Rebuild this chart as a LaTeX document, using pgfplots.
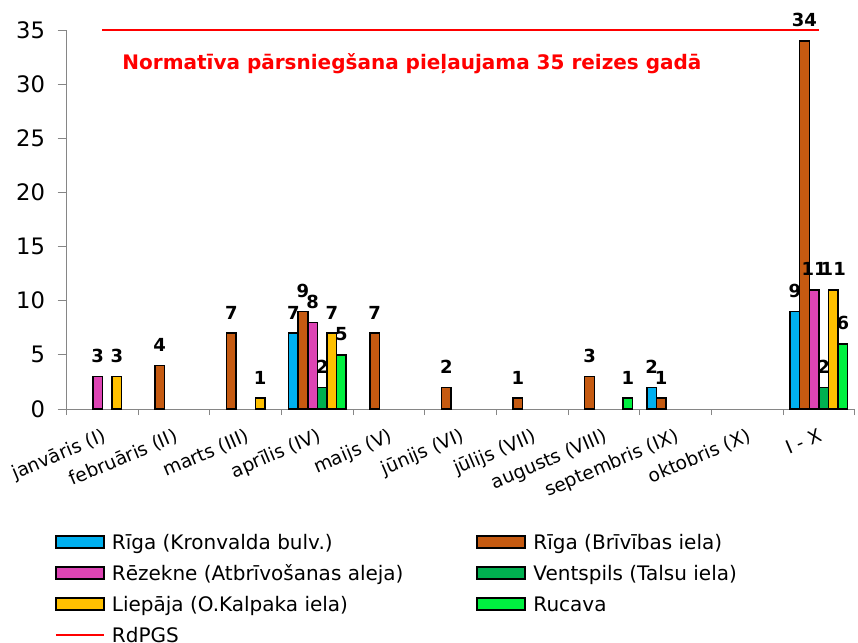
\documentclass[border=0pt]{standalone}
\usepackage{fontspec}
\setmainfont{DejaVu Sans}
\usepackage{pgfplots}
\pgfplotsset{compat=1.18}
\definecolor{cBlue}{HTML}{00B0F0}
\definecolor{cBrown}{HTML}{C55A11}
\definecolor{cMag}{HTML}{DD44B4}
\definecolor{cDkGreen}{HTML}{00B050}
\definecolor{cYellow}{HTML}{FFC000}
\definecolor{cGreen}{HTML}{00F040}
\definecolor{cAxis}{HTML}{868686}
\pgfplotsset{
  barleg/.style={legend image code/.code={\draw[##1, line width=1.5pt] (0pt,-4.5pt) rectangle (36pt,4.5pt);}},
  mybar/.style={fill=#1, draw=black, line width=1.1pt, nodes near coords, barleg},
}
\begin{document}
\begin{tikzpicture}
\path[use as bounding box] (-50pt,-175.5pt) rectangle (593.5pt,306.75pt);
\begin{axis}[
  at={(0pt,0pt)}, anchor=south west,
  width=591pt, height=284.25pt, scale only axis,
  xmin=-0.5, xmax=10.5, ymin=0, ymax=35,
  clip=false,
  ybar, bar width=7.2pt,
  axis x line*=bottom, axis y line*=left,
  axis line style={cAxis, line width=0.75pt},
  tick align=outside,
  ytick={0,5,...,35},
  xtick={0,...,10},
  xticklabels={janvāris (I),februāris (II),marts (III),aprīlis (IV),maijs (V),jūnijs (VI),jūlijs (VII),augusts (VIII),septembris (IX),oktobris (X),I - X},
  minor xtick={-0.5,0.5,...,10.5},
  major tick length=6.75pt, minor tick length=4.5pt,
  tick style={cAxis, line width=0.75pt},
  major x tick style={draw=none},
  /pgf/number format/assume math mode=true,
  y tick label style={font=\fontsize{17}{20}\selectfont, xshift=-6pt},
  x tick label style={font=\fontsize{14}{17}\selectfont, rotate=23, anchor=north east, yshift=-3pt},
  every node near coord/.append style={font=\bfseries\fontsize{13.5}{16}\selectfont, text=black, anchor=south, inner sep=0pt, yshift=10pt},
  legend columns=2,
  legend cell align=left,
  legend style={at={(-0.0149,-0.3307)}, anchor=north west, draw=none, fill=none, inner sep=0pt, outer sep=0pt,
    font=\fontsize{15}{18}\selectfont,
    nodes={inner sep=0pt, text height=11.5pt, text depth=0pt},
    /tikz/row sep=11.75pt, /tikz/column sep=5.25pt,
    /tikz/every even column/.append style={column sep=54.75pt}},
]
\addplot[mybar=cBlue, bar shift=-18pt] coordinates {(3,7)(8,2)(10,9)};
\addlegendentry{Rīga (Kronvalda bulv.)}
\addplot[mybar=cBrown, bar shift=-10.8pt] coordinates {(1,4)(2,7)(3,9)(4,7)(5,2)(6,1)(7,3)(8,1)(10,34)};
\addlegendentry{Rīga (Brīvības iela)}
\addplot[mybar=cMag, bar shift=-3.6pt] coordinates {(0,3)(3,8)(10,11)};
\addlegendentry{Rēzekne (Atbrīvošanas aleja)}
\addplot[mybar=cDkGreen, bar shift=3.6pt] coordinates {(3,2)(10,2)};
\addlegendentry{Ventspils (Talsu iela)}
\addplot[mybar=cYellow, bar shift=10.8pt] coordinates {(0,3)(2,1)(3,7)(10,11)};
\addlegendentry{Liepāja (O.Kalpaka iela)}
\addplot[mybar=cGreen, bar shift=18pt] coordinates {(3,5)(7,1)(10,6)};
\addlegendentry{Rucava}
\addplot[sharp plot, red, line width=1.5pt, mark=none,
  legend image code/.code={\draw[red, line width=1.5pt] (0pt,0pt) -- (36pt,0pt);}]
  coordinates {(0,35)(10,35)};
\addlegendentry{RdPGS}
\node[text=red, font=\bfseries\fontsize{15}{18}\selectfont] at (axis cs:4.32,31.9) {Normatīva pārsniegšana pieļaujama 35 reizes gadā};
\end{axis}
\end{tikzpicture}
\end{document}
